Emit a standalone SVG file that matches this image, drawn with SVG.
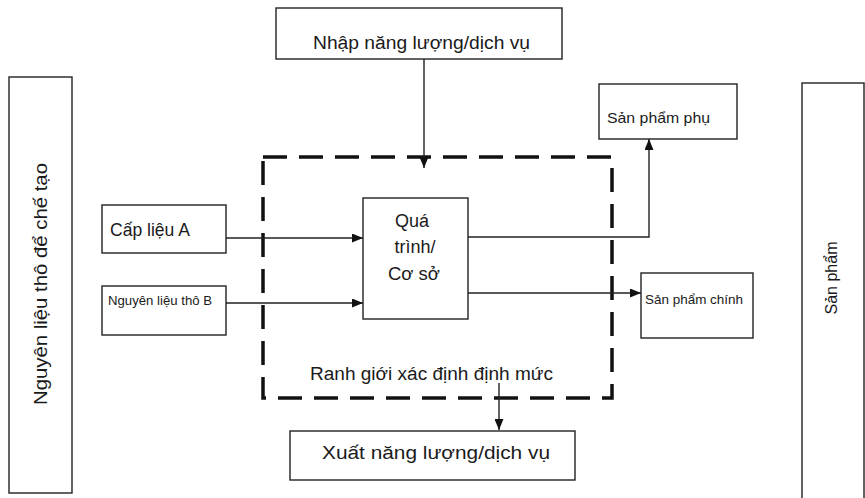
<svg xmlns="http://www.w3.org/2000/svg" width="865" height="498" viewBox="0 0 865 498">
<defs>
<style>
.box{fill:#fff;stroke:#222;stroke-width:1.4}
.t{font-family:"Liberation Sans",Arial,sans-serif;fill:#1a1a1a}
.c{stroke:#222;stroke-width:1.4;fill:none}
.b{fill:none;stroke:#111;stroke-width:3.5;stroke-dasharray:24 12}
</style>
<marker id="ah" viewBox="0 0 11 9" refX="11" refY="4.5" markerWidth="11" markerHeight="9" markerUnits="userSpaceOnUse" orient="auto">
<path d="M0,0 L11,4.5 L0,9 z" fill="#111"/>
</marker>
</defs>
<rect width="865" height="498" fill="#fff"/>
<g id="boundary">
<rect class="b" x="263" y="157" width="349" height="241"/>
<text class="t" x="310" y="380" font-size="18" textLength="243" lengthAdjust="spacingAndGlyphs">Ranh giới xác định định mức</text>
</g>
<g id="connectors">
<path class="c" d="M424,59 V168" marker-end="url(#ah)"/>
<path class="c" d="M226,238 H363" marker-end="url(#ah)"/>
<path class="c" d="M226,303 H363" marker-end="url(#ah)"/>
<path class="c" d="M468,237 H649 V139" marker-end="url(#ah)"/>
<path class="c" d="M468,293 H641" marker-end="url(#ah)"/>
<path class="c" d="M499,383 V430" marker-end="url(#ah)"/>
</g>
<g id="raw-materials">
<rect class="box" x="9" y="77" width="63" height="416"/>
<text class="t" x="0" y="0" font-size="18" text-anchor="middle" textLength="242" lengthAdjust="spacingAndGlyphs" transform="translate(47,284) rotate(-90)">Nguyên liệu thô để chế tạo</text>
</g>
<g id="energy-in">
<rect class="box" x="276" y="8" width="286" height="51"/>
<text class="t" x="313" y="49" font-size="18" textLength="217" lengthAdjust="spacingAndGlyphs">Nhập năng lượng/dịch vụ</text>
</g>
<g id="feed-a">
<rect class="box" x="102" y="205" width="124" height="48"/>
<text class="t" x="110" y="236" font-size="18" textLength="80" lengthAdjust="spacingAndGlyphs">Cấp liệu A</text>
</g>
<g id="raw-b">
<rect class="box" x="102" y="286" width="124" height="49"/>
<text class="t" x="108" y="305" font-size="13" textLength="104" lengthAdjust="spacingAndGlyphs">Nguyên liệu thô B</text>
</g>
<g id="process">
<rect class="box" x="363" y="198" width="105" height="121"/>
<text class="t" x="412" y="227" font-size="18" text-anchor="middle">Quá</text>
<text class="t" x="415" y="253" font-size="18" text-anchor="middle">trình/</text>
<text class="t" x="414" y="280" font-size="18" text-anchor="middle" textLength="52" lengthAdjust="spacingAndGlyphs">Cơ sở</text>
</g>
<g id="by-product">
<rect class="box" x="599" y="84" width="138" height="55"/>
<text class="t" x="607" y="123" font-size="15" textLength="103" lengthAdjust="spacingAndGlyphs">Sản phẩm phụ</text>
</g>
<g id="main-product">
<rect class="box" x="641" y="273" width="112" height="65"/>
<text class="t" x="645" y="304" font-size="12.5" textLength="98" lengthAdjust="spacingAndGlyphs">Sản phẩm chính</text>
</g>
<g id="energy-out">
<rect class="box" x="290" y="431" width="285" height="49"/>
<text class="t" x="322" y="459" font-size="18" textLength="228" lengthAdjust="spacingAndGlyphs">Xuất năng lượng/dịch vụ</text>
</g>
<g id="products">
<rect class="box" x="802" y="83" width="62" height="420"/>
<text class="t" x="0" y="0" font-size="16" text-anchor="middle" transform="translate(837,278) rotate(-90)">Sản phẩm</text>
</g>
</svg>
